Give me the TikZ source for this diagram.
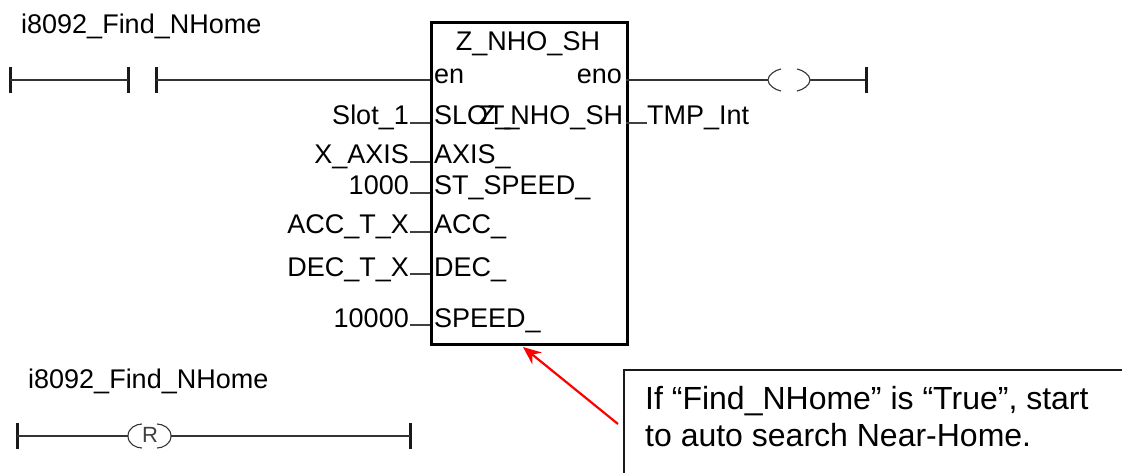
\documentclass[tikz,border=0pt]{standalone}
\usepackage{fontspec}
\setmainfont{Liberation Sans}
\usetikzlibrary{arrows.meta,calc}
\tikzset{
  x=1pt,y=-1pt,
  wire/.style={line width=1.8pt,draw=black!80},
  pinw/.style={line width=1.4pt,draw=black!75},
  bar/.style={line width=3pt,draw=black!90},
  fb/.style={draw=black,line width=2.6pt,inner sep=0pt,anchor=north west,minimum width=196pt,minimum height=322pt},
  ld/.style={inner sep=0pt,font=\fontsize{27}{29}\selectfont},
  coil/.style={line width=1.1pt,draw=black!80},
  note/.style={draw=black!90,line width=1.5pt,inner sep=0pt,anchor=north west,minimum width=520pt,minimum height=130pt},
  notetxt/.style={inner sep=0pt,font=\fontsize{32}{34}\selectfont},
  redarrow/.style={draw=red,line width=2.2pt,-{Stealth[length=18pt,width=15pt]}}
}
\begin{document}
\begin{tikzpicture}
\useasboundingbox (0,0) rectangle (1122,472);
\node[fb] (box) at (430,21) {};
\node[ld,anchor=base west] (t1) at (21,33) {i8092\_Find\_NHome};
\node[ld,anchor=base] (t2) at (528,50) {Z\_NHO\_SH};
\node[ld,anchor=base west] (en) at (434,83) {en};
\node[ld,anchor=base east] (eno) at (622,83) {eno};
\node[ld,anchor=base] (t3) at (551,124) {Z\_NHO\_SH};
\node[ld,anchor=base west] (p1) at (434,124) {SLOT\_};
\node[ld,anchor=base west] (p2) at (434,163) {AXIS\_};
\node[ld,anchor=base west] (p3) at (434,194) {ST\_SPEED\_};
\node[ld,anchor=base west] (p4) at (434,233) {ACC\_};
\node[ld,anchor=base west] (p5) at (434,276) {DEC\_};
\node[ld,anchor=base west] (p6) at (434,327) {SPEED\_};
\node[ld,anchor=base east] (v1) at (409,124) {Slot\_1};
\node[ld,anchor=base east] (v2) at (409,163) {X\_AXIS};
\node[ld,anchor=base east] (v3) at (409,194) {1000};
\node[ld,anchor=base east] (v4) at (409,233) {ACC\_T\_X};
\node[ld,anchor=base east] (v5) at (409,276) {DEC\_T\_X};
\node[ld,anchor=base east] (v6) at (409,327) {10000};
\node[ld,anchor=base west] (out) at (647,124) {TMP\_Int};
\node[ld,anchor=base west] (t4) at (28,388) {i8092\_Find\_NHome};
% top rung
\coordinate (a) at (10,80);
\coordinate (b) at (128,80);
\coordinate (c) at (156,80);
\coordinate (d) at (430,80);
\draw[bar] (10,67) -- (10,93);
\draw[bar] (128,67) -- (128,93);
\draw[bar] (156,67) -- (156,93);
\draw[wire] (a) -- (b);
\draw[wire] (c) -- (d);
\coordinate (e) at (626,80);
\coordinate (f) at (768,80);
\coordinate (g) at (810,80);
\coordinate (h) at (866,80);
\draw[wire] (e) -- (f);
\draw[wire] (g) -- (h);
\draw[bar] (866,67) -- (866,93);
\draw[coil] (781,69) .. controls (775,70) and (768,75) .. (f) .. controls (768,85) and (775,90) .. (781,91);
\draw[coil] (797,69) .. controls (803,70) and (810,75) .. (g) .. controls (810,85) and (803,90) .. (797,91);
% pins
\foreach \n/\y in {v1/123,v2/162,v3/193,v4/232,v5/274,v6/325}{
  \coordinate (\n pin) at (410,\y);
  \coordinate (\n box) at (430,\y);
  \draw[pinw] (\n pin) -- (\n box);
}
\coordinate (o1) at (626,123);
\coordinate (o2) at (647,123);
\draw[pinw] (o1) -- (o2);
% lower rung
\coordinate (r1) at (17,436);
\coordinate (r2) at (128,436);
\coordinate (r3) at (171,436);
\coordinate (r4) at (410,436);
\draw[bar] (17,423) -- (17,449);
\draw[bar] (410,423) -- (410,449);
\draw[wire] (r1) -- (r2);
\draw[wire] (r3) -- (r4);
\draw[coil] (r2) .. controls (128,428) and (136,424) .. (142,424);
\draw[coil] (r2) .. controls (128,444) and (136,448) .. (142,448);
\draw[coil] (r3) .. controls (171,428) and (163,424) .. (157,424);
\draw[coil] (r3) .. controls (171,444) and (163,448) .. (157,448);
\node[inner sep=0pt,text=black!75,font=\fontsize{22}{22}\selectfont] (rr) at (150,435) {R};
% callout
\node[note] (n) at (623,369) {};
\node[notetxt,anchor=base west] (n1) at (645,409) {If “Find\_NHome” is “True”, start};
\node[notetxt,anchor=base west] (n2) at (645,446) {to auto search Near-Home.};
\coordinate (tail) at (618,424);
\coordinate (tip) at (523,347);
\draw[redarrow] (tail) -- (tip);
\end{tikzpicture}
\end{document}
